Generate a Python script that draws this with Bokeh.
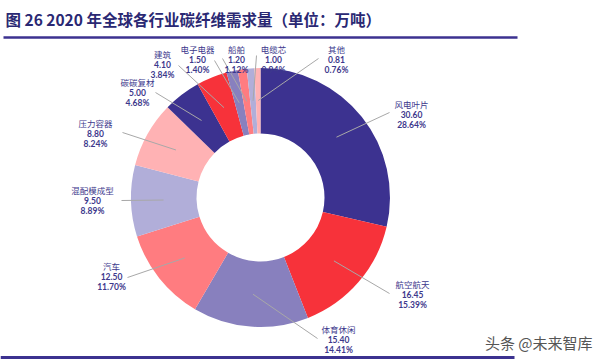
import numpy as np
from bokeh.plotting import figure
from bokeh.models import Range1d, ColumnDataSource
from bokeh.core.properties import value
from bokeh.embed import file_html
from bokeh.resources import INLINE

# ---------------- data ----------------
title_text = "图 26 2020 年全球各行业碳纤维需求量（单位：万吨）"
categories = ["风电叶片", "航空航天", "体育休闲", "汽车", "混配模成型", "压力容器",
              "碳碳复材", "建筑", "电子电器", "船舶", "电缆芯", "其他"]
values = [30.60, 16.45, 15.40, 12.50, 9.50, 8.80, 5.00, 4.10, 1.50, 1.20, 1.00, 0.81]
watermark = "头条 @未来智库"

# ---------------- styles / layout ----------------
palette = ["#3C3290", "#F7323A", "#8880BE", "#FF7C80", "#B1AED9", "#FFB2B4"]
colors = [palette[i % len(palette)] for i in range(len(values))]
label_color = "#3D388C"
W, H = 600, 360

def Y(py):  # picture y (pixels from top) -> data y
    return H - py

CX, CY = 260, Y(197)
R_OUT, R_IN, R_LEAD = 129.5, 64, 97

# label block centres (picture coords: x, y of name line)
label_pos = [(411, 103), (412, 283), (338, 328), (111, 265), (92, 189), (95, 122),
             (137, 81), (162, 53), (197, 48), (236, 48), (273, 48), (336, 48)]
# outer ends of leader lines (picture coords)
lead_out = [(389, 112), (389, 293), (317, 338), (127, 277), (121, 200), (122, 132),
            (155, 92), (178, 65), (214, 60), (222, 58), (256, 55), (318, 58)]

# ---------------- figure ----------------
p = figure(width=W, height=H, output_backend="svg", toolbar_location=None,
           x_range=Range1d(0, W), y_range=Range1d(0, H),
           min_border=0, outline_line_color=None)
p.axis.visible = False
p.grid.visible = False
p.background_fill_color = "white"
p.border_fill_color = "white"

vals = np.array(values)
fracs = vals / vals.sum()
cum = np.concatenate([[0.0], np.cumsum(fracs)])
start = np.pi / 2 - 2 * np.pi * cum[:-1]
end = np.pi / 2 - 2 * np.pi * cum[1:]
mid = np.pi / 2 - 2 * np.pi * (cum[:-1] + fracs / 2)

src = ColumnDataSource(dict(start=start, end=end, color=colors))
p.annular_wedge(x=CX, y=CY, inner_radius=R_IN, outer_radius=R_OUT,
                start_angle="start", end_angle="end", direction="clock",
                fill_color="color", line_color=None, source=src)

# leader lines
x0 = [lo[0] for lo in lead_out]
y0 = [Y(lo[1]) for lo in lead_out]
x1 = list(CX + R_LEAD * np.cos(mid))
y1 = list(CY + R_LEAD * np.sin(mid))
p.segment(x0=x0, y0=y0, x1=x1, y1=y1, line_color="#A8A8A8", line_width=1)

# labels
lx = [lp[0] for lp in label_pos]
ny = [Y(lp[1]) for lp in label_pos]
vy = [Y(lp[1] + 10.5) for lp in label_pos]
py_ = [Y(lp[1] + 21) for lp in label_pos]
vtxt = [f"{v:.2f}" for v in values]
ptxt = [f"{f*100:.2f}%" for f in fracs]

p.text(x=lx, y=ny, text=categories, text_align="center", text_baseline="middle",
       text_font=value("Noto Sans CJK SC"), text_font_size="8.5px",
       text_color=label_color)
p.text(x=lx, y=vy, text=vtxt, text_align="center", text_baseline="middle",
       text_font=value("Lato"), text_font_style="bold", text_font_size="8.5px",
       text_color=label_color)
p.text(x=lx, y=py_, text=ptxt, text_align="center", text_baseline="middle",
       text_font=value("Lato"), text_font_style="bold", text_font_size="8.5px",
       text_color=label_color)

# title and rules
p.text(x=[5], y=[Y(18)], text=[title_text], text_align="left", text_baseline="middle",
       text_font=value("Noto Sans CJK SC"), text_font_style="bold",
       text_font_size="15.5px", text_color="#2A2873")
p.segment(x0=[3], y0=[Y(37)], x1=[517], y1=[Y(37)], line_color="#3C3290", line_width=2.5)
p.segment(x0=[0], y0=[Y(357)], x1=[514], y1=[Y(357)], line_color="#3C3290", line_width=3)

# watermark
p.text(x=[592], y=[Y(342)], text=[watermark], text_align="right", text_baseline="middle",
       text_font=value("Noto Sans CJK SC"), text_font_size="15px", text_color="#555555")

open("out.html", "w").write(file_html(p, INLINE))
